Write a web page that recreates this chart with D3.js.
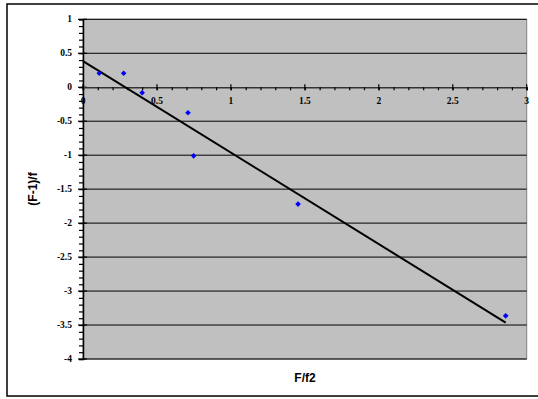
<!DOCTYPE html>
<html><head><meta charset="utf-8">
<script src="https://cdn.jsdelivr.net/npm/d3@7"></script>
<style>body{margin:0;background:#fff}svg{display:block}</style>
</head><body>
<svg id="c" width="538" height="399"></svg>
<script>
const xValues = [0.11, 0.275, 0.40, 0.71, 0.748, 1.454, 2.858];
const yValues = [0.205, 0.205, -0.08, -0.375, -1.01, -1.72, -3.365];
const xTicks = [0, 0.5, 1, 1.5, 2, 2.5, 3];
const yTicks = [1, 0.5, 0, -0.5, -1, -1.5, -2, -2.5, -3, -3.5, -4];
const xTitle = "F/f2";
const yTitle = "(F-1)/f";

const svg = d3.select("#c");
const L = 83, T = 19.3, R = 526.7, B = 359;
const x = d3.scaleLinear().domain([0, 3]).range([L, R]);
const y = d3.scaleLinear().domain([-4, 1]).range([B, T]);

// outer border
svg.append("rect").attr("x", 7).attr("y", 4).attr("width", 540).attr("height", 392)
  .attr("fill", "#fff").attr("stroke", "#000").attr("stroke-width", 1.5);

// plot area
svg.append("rect").attr("x", L).attr("y", T).attr("width", R - L).attr("height", B - T)
  .attr("fill", "#c0c0c0").attr("stroke", "#808080").attr("stroke-width", 1);

// gridlines
svg.append("g").selectAll("line").data(yTicks.filter(d => d !== 0)).join("line")
  .attr("x1", L).attr("x2", R).attr("y1", d => y(d)).attr("y2", d => y(d))
  .attr("stroke", "#000").attr("stroke-width", 1);

// y axis
const yAxis = d3.axisLeft(y).tickValues(d3.range(-40, 11).map(d => d / 10)).tickSize(4).tickFormat("");
const gy = svg.append("g").attr("transform", `translate(${L},0)`).call(yAxis);
gy.select(".domain").attr("stroke", "#000").attr("stroke-width", 1.5);
gy.selectAll(".tick line").attr("stroke", "#000").attr("stroke-width", 1.2);
svg.append("g").selectAll("line").data(yTicks).join("line")
  .attr("x1", L - 5).attr("x2", L + 4).attr("y1", d => y(d)).attr("y2", d => y(d))
  .attr("stroke", "#000").attr("stroke-width", 1.2);
svg.append("g").selectAll("text").data(yTicks).join("text")
  .attr("x", L - 11).attr("y", d => y(d) + 3)
  .attr("text-anchor", "end")
  .attr("font-family", "'Liberation Serif', 'Times New Roman', serif")
  .attr("font-weight", "bold").attr("font-size", 9.5)
  .text(d => d);

// x axis at y=0
const y0 = y(0);
const xAxis = d3.axisBottom(x).tickValues(d3.range(0, 31).map(d => d / 10)).tickSize(3).tickFormat("");
const gx = svg.append("g").attr("transform", `translate(0,${y0})`).call(xAxis);
gx.select(".domain").attr("stroke", "#333").attr("stroke-width", 1.5);
gx.selectAll(".tick line").attr("stroke", "#000").attr("stroke-width", 1.2);
svg.append("g").selectAll("line").data(xTicks).join("line")
  .attr("x1", d => x(d)).attr("x2", d => x(d)).attr("y1", y0 - 3).attr("y2", y0 + 3)
  .attr("stroke", "#000").attr("stroke-width", 1.2);
svg.append("g").selectAll("text").data(xTicks).join("text")
  .attr("x", d => x(d)).attr("y", y0 + 17)
  .attr("text-anchor", "middle")
  .attr("font-family", "'Liberation Serif', 'Times New Roman', serif")
  .attr("font-weight", "bold").attr("font-size", 9.5)
  .text(d => d);

// regression trendline
const mx = d3.mean(xValues), my = d3.mean(yValues);
const slope = d3.sum(xValues, (v, i) => (v - mx) * (yValues[i] - my)) / d3.sum(xValues, v => (v - mx) ** 2);
const icpt = my - slope * mx;
const x0 = 0, x1 = d3.max(xValues);
svg.append("line")
  .attr("x1", x(x0)).attr("y1", y(icpt + slope * x0))
  .attr("x2", x(x1)).attr("y2", y(icpt + slope * x1))
  .attr("stroke", "#000").attr("stroke-width", 2);

// points
const pts = xValues.map((v, i) => [v, yValues[i]]);
svg.append("g").selectAll("path").data(pts).join("path")
  .attr("d", "M0,-2.8L2.8,0L0,2.8L-2.8,0Z")
  .attr("transform", d => `translate(${x(d[0])},${y(d[1])})`)
  .attr("fill", "#0000ff");

// titles
svg.append("text").attr("x", 305).attr("y", 382).attr("text-anchor", "middle")
  .attr("font-family", "'Liberation Sans', Arial, sans-serif").attr("font-weight", "bold")
  .attr("font-size", 12).text(xTitle);
svg.append("text").attr("transform", "translate(37,189) rotate(-90)").attr("text-anchor", "middle")
  .attr("font-family", "'Liberation Sans', Arial, sans-serif").attr("font-weight", "bold")
  .attr("font-size", 12).text(yTitle);
</script>
</body></html>
